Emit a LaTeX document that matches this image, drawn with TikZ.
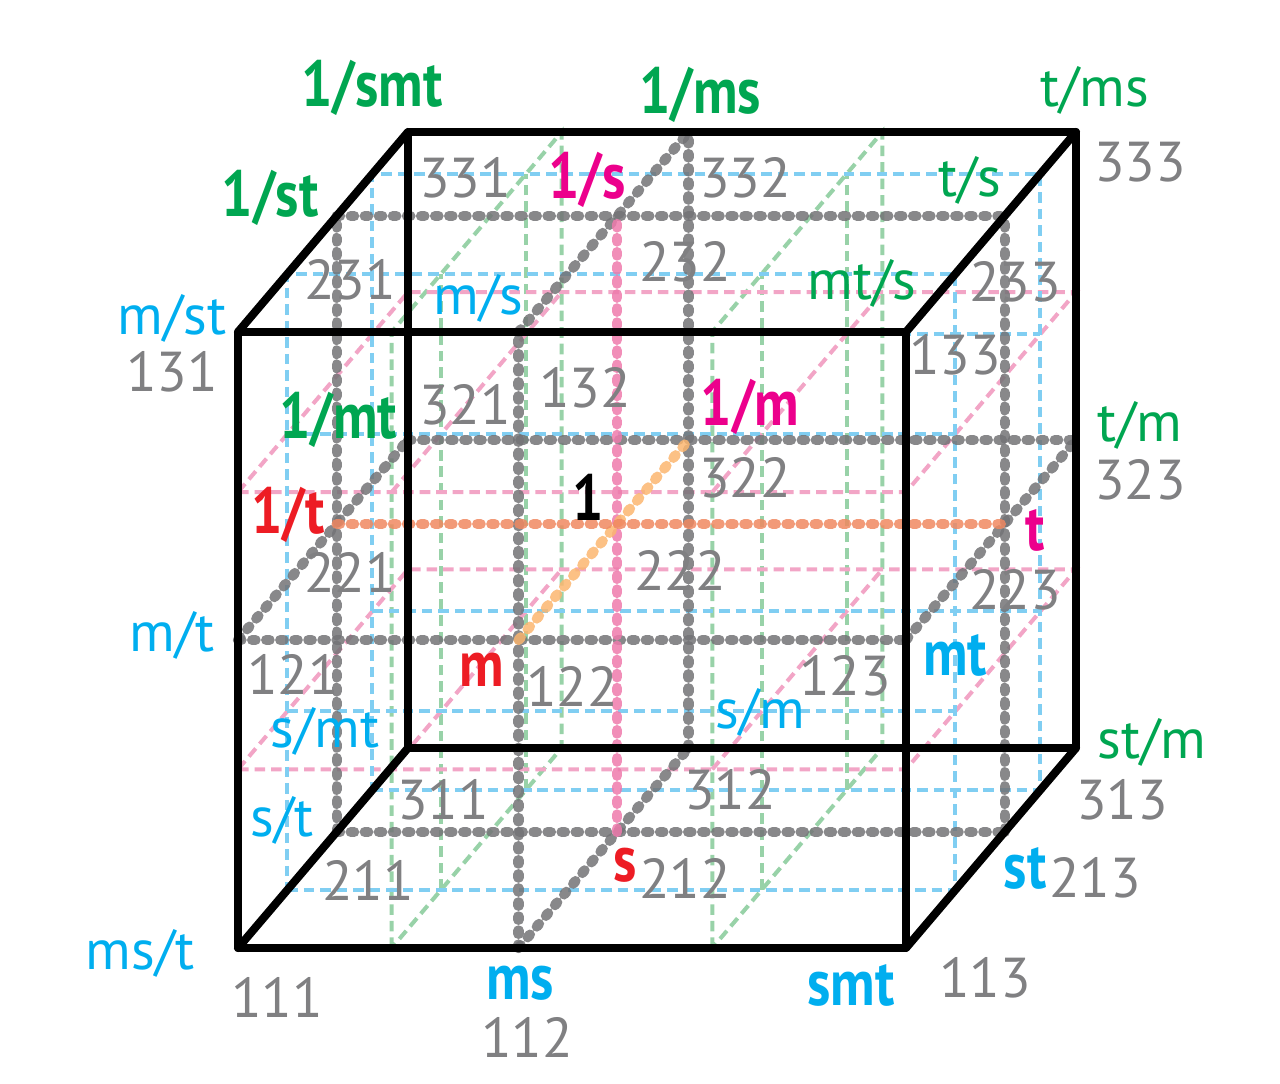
\documentclass[tikz,border=0pt]{standalone}
\usepackage{fontspec}
\setmainfont{PT Sans}
\newfontfamily\heavyfont[FakeStretch=0.85]{PT Sans}
\definecolor{gridgray}{RGB}{115,115,118}
\definecolor{numgray}{RGB}{128,128,130}
\definecolor{planecyan}{RGB}{128,206,242}
\definecolor{planepink}{RGB}{242,165,198}
\definecolor{planegreen}{RGB}{152,210,168}
\definecolor{axisorange}{RGB}{240,136,96}
\definecolor{axislight}{RGB}{251,182,112}
\definecolor{axispink}{RGB}{238,122,172}
\definecolor{labgreen}{RGB}{0,166,81}
\definecolor{labcyan}{RGB}{0,174,239}
\definecolor{labmag}{RGB}{236,0,140}
\definecolor{labred}{RGB}{237,28,36}
\begin{document}
\begin{tikzpicture}[x={(13.36cm,0cm)}, y={(0cm,12.32cm)}, z={(3.4cm,4cm)},
    edge/.style={line width=4.6pt, line join=round, line cap=round},
    midline/.style={draw=gridgray, draw opacity=.85, line width=5.8pt, line cap=round, dash pattern=on 2pt off 6pt},
    axisline/.style={draw opacity=.85, line width=5.8pt, line cap=round, dash pattern=on 2pt off 6pt},
    plane/.style={line width=2.3pt, dash pattern=on 6pt off 3.4pt},
    num/.style={text=numgray, inner sep=0pt, font=\fontsize{32}{32}\selectfont},
    unitlab/.style={inner sep=0pt, font=\fontsize{32}{32}\selectfont},
    baselab/.style={inner sep=0pt, font=\heavyfont\bfseries\fontsize{37}{37}\selectfont}]
  \useasboundingbox (-4.76cm,-2.72cm) rectangle (20.84cm,18.96cm);
  % grid points: first digit front to back, second bottom to top, third left to right
  \foreach \i/\c in {1/0,2/.58,3/1}
    \foreach \j/\b in {1/0,2/.5,3/1}
      \foreach \k/\a in {1/0,2/.42,3/1}
        \coordinate (p\i\j\k) at (\a,\b,\c);
  % thin planes
  \foreach \a in {.23,.71} {
    \draw[plane,planegreen] (\a,0,0) -- (\a,1,0) -- (\a,1,1) -- (\a,0,1) -- cycle;
    \foreach \c in {.29,.79} \draw[plane,planegreen] (\a,0,\c) -- (\a,1,\c);
  }
  \foreach \b in {.29,.74} {
    \draw[plane,planepink] (0,\b,0) -- (1,\b,0) -- (1,\b,1) -- (0,\b,1) -- cycle;
    \foreach \a in {.23,.71} \draw[plane,planepink] (\a,\b,0) -- (\a,\b,1);
  }
  \foreach \c in {.29,.79} {
    \draw[plane,planecyan] (0,0,\c) -- (1,0,\c) -- (1,1,\c) -- (0,1,\c) -- cycle;
    \foreach \b in {.29,.74} \draw[plane,planecyan] (0,\b,\c) -- (1,\b,\c);
  }
  % middle lines of the faces
  \foreach \u/\v in {121/123,112/132,321/323,312/332,132/332,231/233,112/312,211/213,211/231,121/321,213/233,123/323}
    \draw[midline] (p\u) -- (p\v);
  % axes through the centre
  \draw[axisline,axispink] (p212) -- (p232);
  \draw[axisline,axislight] (p122) -- (p322);
  \draw[axisline,axisorange] (p221) -- (p223);
  % cube
  \draw[edge] (p111) -- (p113) -- (p133) -- (p131) -- cycle;
  \draw[edge] (p311) -- (p313) -- (p333) -- (p331) -- cycle;
  \foreach \f in {11,13,31,33} \draw[edge] (p1\f) -- (p3\f);
  % numbers
  \foreach \p/\dx/\dy in {111/0.78/-0.98, 112/0.17/-1.78, 113/1.58/-0.60,
      121/1.10/-0.68, 122/1.07/-0.92, 123/-1.22/-0.72,
      131/-1.32/-0.80, 132/1.33/-1.12, 133/0.98/-0.46,
      211/0.63/-0.96, 212/1.36/-0.92, 213/1.81/-0.92,
      221/0.27/-0.96, 222/1.26/-0.92, 223/0.21/-1.32,
      231/0.27/-1.28, 232/1.36/-0.92, 233/0.21/-1.32,
      311/0.70/-1.04, 312/0.83/-0.84, 313/0.92/-1.04,
      321/1.14/0.70, 322/1.13/-0.76, 323/1.28/-0.80,
      331/1.14/-0.92, 332/1.13/-0.92, 333/1.28/-0.60}
    \node[num] (n\p) at ([xshift=\dx*1cm, yshift=\dy*1cm]p\p) {\p};
  % units
  \node[unitlab,text=labcyan] (l111) at ([xshift=-1.96cm, yshift=-0.10cm]p111) {ms/t};
  \node[baselab,text=labcyan] (l112) at ([xshift=0.03cm, yshift=-0.70cm]p112) {ms};
  \node[baselab,text=labcyan] (l113) at ([xshift=-1.10cm, yshift=-0.74cm]p113) {smt};
  \node[unitlab,text=labcyan] (l121) at ([xshift=-1.32cm, yshift=0.10cm]p121) {m/t};
  \node[baselab,text=labred] (l122) at ([xshift=-0.73cm, yshift=-0.60cm]p122) {m};
  \node[baselab,text=labcyan] (l123) at ([xshift=0.98cm, yshift=-0.30cm]p123) {mt};
  \node[unitlab,text=labcyan] (l131) at ([xshift=-1.32cm, yshift=0.28cm]p131) {m/st};
  \node[unitlab,text=labcyan] (l132) at ([xshift=-0.81cm, yshift=0.68cm]p132) {m/s};
  \node[unitlab,text=labgreen] (l133) at ([xshift=-0.88cm, yshift=0.98cm]p133) {mt/s};
  \node[unitlab,text=labcyan] (l211) at ([xshift=-1.09cm, yshift=0.24cm]p211) {s/t};
  \node[baselab,text=labred] (l212) at ([xshift=0.16cm, yshift=-0.66cm]p212) {s};
  \node[baselab,text=labcyan] (l213) at ([xshift=0.41cm, yshift=-0.72cm]p213) {st};
  \node[baselab,text=labred] (l221) at ([xshift=-0.97cm, yshift=0.18cm]p221) {1/t};
  \node[baselab,text=black] (l222) at ([xshift=-0.58cm, yshift=0.54cm]p222) {1};
  \node[baselab,text=labmag] (l223) at ([xshift=0.61cm, yshift=-0.12cm]p223) {t};
  \node[baselab,text=labgreen] (l231) at ([xshift=-1.33cm, yshift=0.36cm]p231) {1/st};
  \node[baselab,text=labmag] (l232) at ([xshift=-0.60cm, yshift=0.72cm]p232) {1/s};
  \node[unitlab,text=labgreen] (l233) at ([xshift=-0.69cm, yshift=0.72cm]p233) {t/s};
  \node[unitlab,text=labcyan] (l311) at ([xshift=-1.66cm, yshift=0.34cm]p311) {s/mt};
  \node[unitlab,text=labcyan] (l312) at ([xshift=1.43cm, yshift=0.72cm]p312) {s/m};
  \node[unitlab,text=labgreen] (l313) at ([xshift=1.52cm, yshift=0.12cm]p313) {st/m};
  \node[baselab,text=labgreen] (l321) at ([xshift=-1.40cm, yshift=0.40cm]p321) {1/mt};
  \node[baselab,text=labmag] (l322) at ([xshift=1.23cm, yshift=0.66cm]p322) {1/m};
  \node[unitlab,text=labgreen] (l323) at ([xshift=1.28cm, yshift=0.30cm]p323) {t/m};
  \node[baselab,text=labgreen] (l331) at ([xshift=-0.72cm, yshift=0.88cm]p331) {1/smt};
  \node[baselab,text=labgreen] (l332) at ([xshift=0.23cm, yshift=0.74cm]p332) {1/ms};
  \node[unitlab,text=labgreen] (l333) at ([xshift=0.38cm, yshift=0.84cm]p333) {t/ms};
\end{tikzpicture}
\end{document}
